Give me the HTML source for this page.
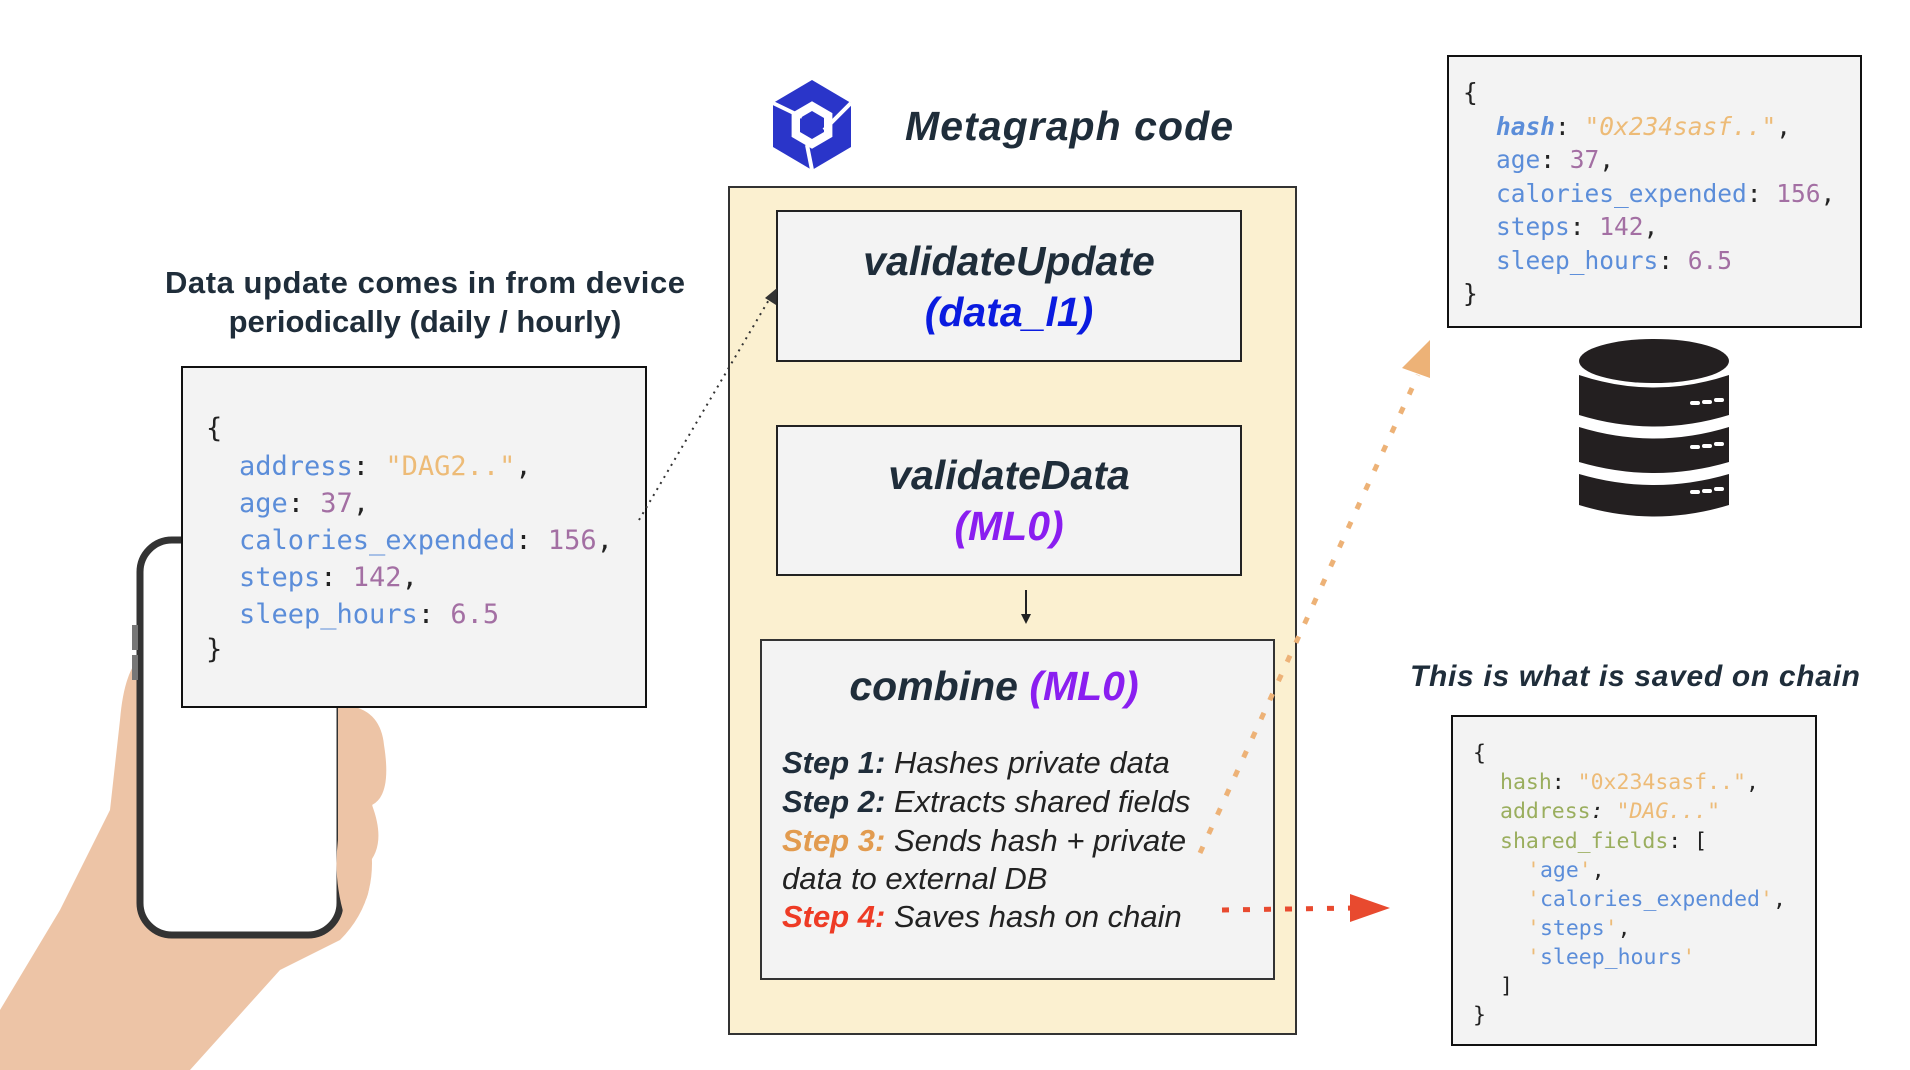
<!DOCTYPE html>
<html><head><meta charset="utf-8"><style>
html,body{margin:0;padding:0;background:#fff;}
svg{display:block}
.mono{font-family:"DejaVu Sans Mono","Liberation Mono",monospace;}
.sans{font-family:"Liberation Sans",Arial,sans-serif;}
</style></head><body>
<svg width="1910" height="1070" viewBox="0 0 1910 1070" xmlns="http://www.w3.org/2000/svg">
<defs>
<marker id="ab" markerWidth="10" markerHeight="10" refX="8" refY="5" orient="auto" markerUnits="userSpaceOnUse"><path d="M0,0 L10,5 L0,10 z" fill="#222"/></marker>
</defs>
<path d="M0,1010 L60,910 L110,810 L120,720 Q125,660 150,650 L175,690 L180,800 L260,800 L350,760 Q380,780 370,840 Q380,900 340,940 L280,970 L190,1070 L0,1070 z" fill="#EDC4A6"/>
<rect x="140" y="540" width="200" height="395" rx="32" fill="#fff" stroke="#333" stroke-width="7"/>
<rect x="132" y="625" width="6" height="25" fill="#777"/><rect x="132" y="655" width="6" height="25" fill="#777"/>
<path d="M338,705 Q380,705 384,745 Q392,795 372,805 Q387,845 367,865 Q377,905 345,918 Q333,880 338,840 z" fill="#EDC4A6"/>

<text class="sans" x="425" y="293" font-size="31" font-weight="bold" fill="#1F2D3A" text-anchor="middle" textLength="520">Data update comes in from device</text>
<text class="sans" x="425" y="332" font-size="31" font-weight="bold" fill="#1F2D3A" text-anchor="middle">periodically (daily / hourly)</text>

<rect x="182" y="367" width="464" height="340" fill="#F3F3F3" stroke="#111" stroke-width="2"/>
<g class="mono" font-size="27">
<text x="206" y="437" fill="#222">{</text>
<text x="239" y="475"><tspan fill="#5B8DD9">address</tspan><tspan fill="#222">: </tspan><tspan fill="#EDBB77">"DAG2.."</tspan><tspan fill="#222">,</tspan></text>
<text x="239" y="512"><tspan fill="#5B8DD9">age</tspan><tspan fill="#222">: </tspan><tspan fill="#A36FA3">37</tspan><tspan fill="#222">,</tspan></text>
<text x="239" y="549"><tspan fill="#5B8DD9">calories_expended</tspan><tspan fill="#222">: </tspan><tspan fill="#A36FA3">156</tspan><tspan fill="#222">,</tspan></text>
<text x="239" y="586"><tspan fill="#5B8DD9">steps</tspan><tspan fill="#222">: </tspan><tspan fill="#A36FA3">142</tspan><tspan fill="#222">,</tspan></text>
<text x="239" y="623"><tspan fill="#5B8DD9">sleep_hours</tspan><tspan fill="#222">: </tspan><tspan fill="#A36FA3">6.5</tspan></text>
<text x="206" y="658" fill="#222">}</text>
</g>

<g transform="translate(812,125)">
<polygon points="0,-45 39,-22 39,22 0,45 -39,22 -39,-22" fill="#2A35C9"/>
<polygon points="0,-14 12,-7 12,7 0,14 -12,7 -12,-7" fill="#fff" transform="scale(1.7)"/>
<polygon points="0,-14 12,-7 12,7 0,14 -12,7 -12,-7" fill="#2A35C9"/>
<path d="M-39,-22 L-10,-8 M39,-22 L12,5 M0,45 L-5,20" stroke="#fff" stroke-width="4"/>
</g>
<text class="sans" x="905" y="140" font-size="41" font-weight="bold" font-style="italic" fill="#1F2D3A" textLength="328">Metagraph code</text>

<rect x="729" y="187" width="567" height="847" fill="#FBF0D0" stroke="#333" stroke-width="2"/>
<rect x="777" y="211" width="464" height="150" fill="#F3F3F3" stroke="#222" stroke-width="2"/>
<text class="sans" x="1009" y="275" font-size="41" font-weight="bold" font-style="italic" fill="#1F2D3A" text-anchor="middle">validateUpdate</text>
<text class="sans" x="1009" y="326" font-size="41" font-weight="bold" font-style="italic" fill="#0A1BE0" text-anchor="middle">(data_l1)</text>
<rect x="777" y="426" width="464" height="149" fill="#F3F3F3" stroke="#222" stroke-width="2"/>
<text class="sans" x="1009" y="489" font-size="41" font-weight="bold" font-style="italic" fill="#1F2D3A" text-anchor="middle">validateData</text>
<text class="sans" x="1009" y="540" font-size="41" font-weight="bold" font-style="italic" fill="#8A1EF0" text-anchor="middle">(ML0)</text>
<line x1="1026" y1="590" x2="1026" y2="622" stroke="#222" stroke-width="2" marker-end="url(#ab)"/>
<rect x="761" y="640" width="513" height="339" fill="#F3F3F3" stroke="#333" stroke-width="2"/>
<text class="sans" x="994" y="700" font-size="41" font-weight="bold" font-style="italic" text-anchor="middle"><tspan fill="#1F2D3A">combine </tspan><tspan fill="#8A1EF0">(ML0)</tspan></text>
<g class="sans" font-size="31" font-style="italic" fill="#222">
<text x="782" y="773"><tspan font-weight="bold" fill="#1F2D3A">Step 1:</tspan> Hashes private data</text>
<text x="782" y="812"><tspan font-weight="bold" fill="#1F2D3A">Step 2:</tspan> Extracts shared fields</text>
<text x="782" y="851"><tspan font-weight="bold" fill="#E29B4F">Step 3:</tspan> Sends hash + private</text>
<text x="782" y="889">data to external DB</text>
<text x="782" y="927"><tspan font-weight="bold" fill="#EE3B25">Step 4:</tspan> Saves hash on chain</text>
</g>

<line x1="639" y1="520" x2="770" y2="298" stroke="#333" stroke-width="2" stroke-dasharray="2,5"/>
<polygon points="777,288 776,305 765,298" fill="#333"/>
<line x1="1200" y1="853" x2="1418" y2="375" stroke="#EDB277" stroke-width="5" stroke-dasharray="7,14"/>
<polygon points="1430,340 1430,378 1402,368" fill="#EDB277"/>
<line x1="1222" y1="910" x2="1355" y2="908" stroke="#E84A2F" stroke-width="5" stroke-dasharray="7,14"/>
<polygon points="1350,894 1390,908 1350,922" fill="#E84A2F"/>

<rect x="1448" y="56" width="413" height="271" fill="#F3F3F3" stroke="#111" stroke-width="2"/>
<g class="mono" font-size="24.5">
<text x="1463" y="101" fill="#222">{</text>
<text x="1496" y="135"><tspan fill="#5B8DD9" font-weight="bold" font-style="italic">hash</tspan><tspan fill="#222">: </tspan><tspan fill="#EDBB77" font-style="italic">"0x234sasf.."</tspan><tspan fill="#222">,</tspan></text>
<text x="1496" y="168"><tspan fill="#5B8DD9">age</tspan><tspan fill="#222">: </tspan><tspan fill="#A36FA3">37</tspan><tspan fill="#222">,</tspan></text>
<text x="1496" y="202"><tspan fill="#5B8DD9">calories_expended</tspan><tspan fill="#222">: </tspan><tspan fill="#A36FA3">156</tspan><tspan fill="#222">,</tspan></text>
<text x="1496" y="235"><tspan fill="#5B8DD9">steps</tspan><tspan fill="#222">: </tspan><tspan fill="#A36FA3">142</tspan><tspan fill="#222">,</tspan></text>
<text x="1496" y="269"><tspan fill="#5B8DD9">sleep_hours</tspan><tspan fill="#222">: </tspan><tspan fill="#A36FA3">6.5</tspan></text>
<text x="1463" y="302" fill="#222">}</text>
</g>

<g fill="#231F20">
<ellipse cx="1654" cy="361" rx="75" ry="22"/>
<path d="M1579,375 Q1654,400 1729,375 L1729,415 Q1654,438 1579,415 z"/>
<path d="M1579,427 Q1654,450 1729,427 L1729,462 Q1654,484 1579,462 z"/>
<path d="M1579,474 Q1654,496 1729,474 L1729,505 Q1654,528 1579,505 z"/>
</g>
<g stroke="#fff" stroke-width="4" stroke-linecap="round">
<path d="M1692,403 h6 M1704,402 h6 M1716,400 h6"/>
<path d="M1692,447 h6 M1704,446 h6 M1716,444 h6"/>
<path d="M1692,492 h6 M1704,491 h6 M1716,489 h6"/>
</g>

<text class="sans" x="1635" y="686" font-size="30" font-weight="bold" font-style="italic" fill="#1F2D3A" text-anchor="middle" textLength="450">This is what is saved on chain</text>

<rect x="1452" y="716" width="364" height="329" fill="#F3F3F3" stroke="#111" stroke-width="2"/>
<g class="mono" font-size="21.5">
<text x="1473" y="760" fill="#222">{</text>
<text x="1500" y="789"><tspan fill="#9AAE5E">hash</tspan><tspan fill="#222">: </tspan><tspan fill="#EDBB77">"0x234sasf.."</tspan><tspan fill="#222">,</tspan></text>
<text x="1500" y="818"><tspan fill="#9AAE5E">address</tspan><tspan fill="#222" font-style="italic">: </tspan><tspan fill="#EDBB77" font-style="italic">"DAG..."</tspan></text>
<text x="1500" y="848"><tspan fill="#9AAE5E">shared_fields</tspan><tspan fill="#222">: [</tspan></text>
<text x="1527" y="877"><tspan fill="#EDBB77">'</tspan><tspan fill="#5B8DD9">age</tspan><tspan fill="#EDBB77">'</tspan><tspan fill="#222">,</tspan></text>
<text x="1527" y="906"><tspan fill="#EDBB77">'</tspan><tspan fill="#5B8DD9">calories_expended</tspan><tspan fill="#EDBB77">'</tspan><tspan fill="#222">,</tspan></text>
<text x="1527" y="935"><tspan fill="#EDBB77">'</tspan><tspan fill="#5B8DD9">steps</tspan><tspan fill="#EDBB77">'</tspan><tspan fill="#222">,</tspan></text>
<text x="1527" y="964"><tspan fill="#EDBB77">'</tspan><tspan fill="#5B8DD9">sleep_hours</tspan><tspan fill="#EDBB77">'</tspan></text>
<text x="1500" y="993" fill="#222">]</text>
<text x="1473" y="1022" fill="#222">}</text>
</g>
</svg>
</body></html>
